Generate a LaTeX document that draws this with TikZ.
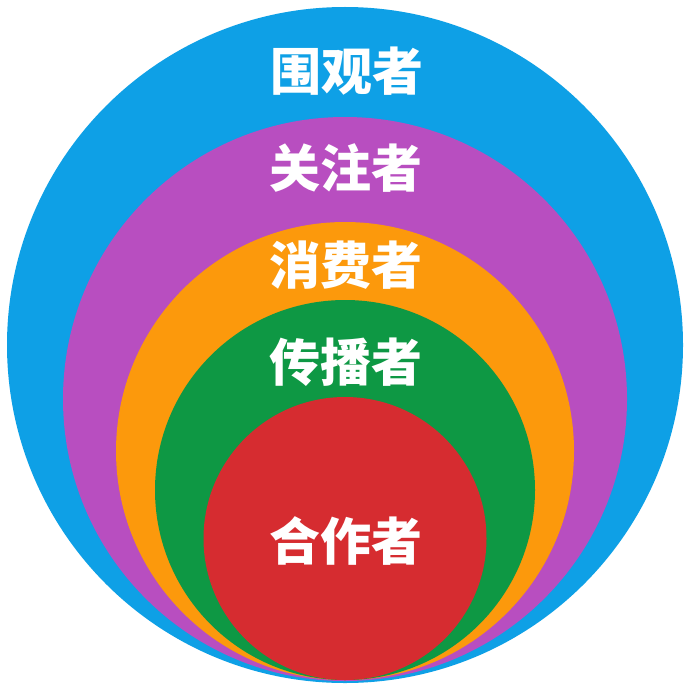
\documentclass[tikz,border=0pt]{standalone}
\usepackage{fontspec}
\newfontfamily\cjk{Noto Sans CJK SC}
\definecolor{cblue}{RGB}{14,160,230}
\definecolor{cpurple}{RGB}{184,78,192}
\definecolor{corange}{RGB}{252,153,12}
\definecolor{cgreen}{RGB}{14,152,68}
\definecolor{cred}{RGB}{214,44,48}
\begin{document}
\begin{tikzpicture}[x=1pt,y=-1pt,
  lbl/.style={text=white,font=\cjk\bfseries\fontsize{51}{51}\selectfont,inner sep=0pt,anchor=center}]
\useasboundingbox[fill=white] (0,0) rectangle (692,690);
\fill[cblue] (345,345) circle[radius=338];
\fill[cpurple] (345,399) circle[radius=282];
\fill[corange] (345,451) circle[radius=229];
\fill[cgreen] (345,490) circle[radius=190];
\fill[cred] (345,538.5) circle[radius=141.5];
\node[lbl] (t1) at (347,71) {围观者};
\node[lbl] (t2) at (346,168) {关注者};
\node[lbl] (t3) at (346,265) {消费者};
\node[lbl] (t4) at (346,362) {传播者};
\node[lbl] (t5) at (346,541) {合作者};
\end{tikzpicture}
\end{document}
